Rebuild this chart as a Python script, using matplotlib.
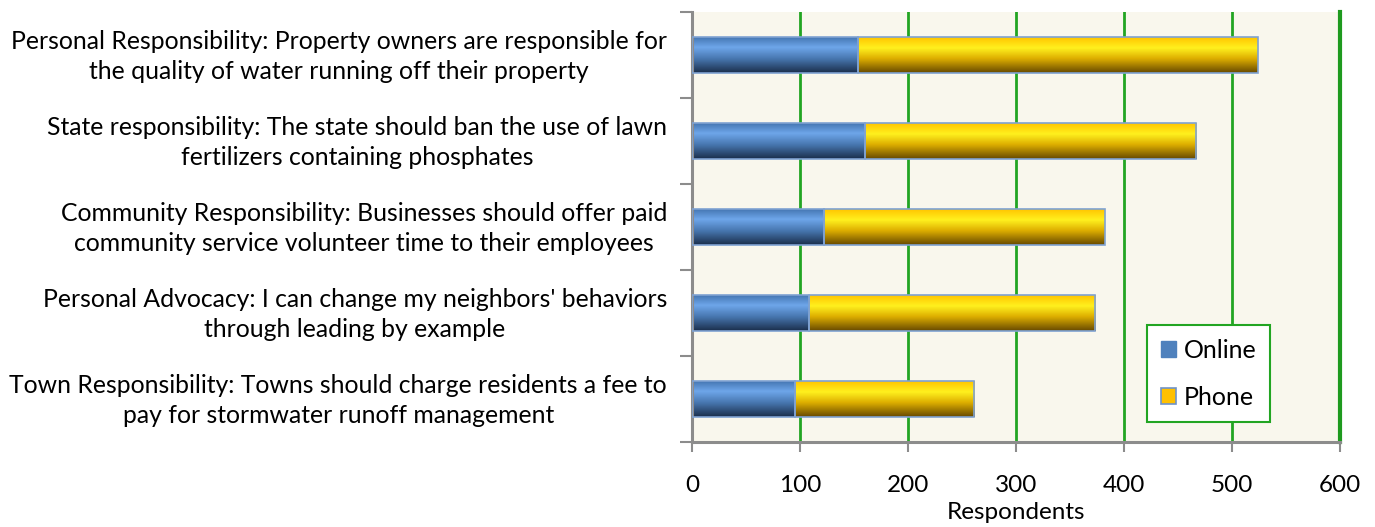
import numpy as np
import matplotlib
matplotlib.use('Agg')
import matplotlib.pyplot as plt
from matplotlib.colors import LinearSegmentedColormap
from matplotlib.patches import Patch

# statements, listed top to bottom
statements = [
    "Personal Responsibility: Property owners are responsible for\nthe quality of water running off their property",
    "State responsibility: The state should ban the use of lawn\nfertilizers containing phosphates",
    "Community Responsibility: Businesses should offer paid\ncommunity service volunteer time to their employees",
    "Personal Advocacy: I can change my neighbors' behaviors\nthrough leading by example",
    "Town Responsibility: Towns should charge residents a fee to\npay for stormwater runoff management",
]
online = [154, 160, 122, 108, 95]
phone = [370, 307, 260, 265, 166]
series_names = ['Online', 'Phone']
x_ticks = [0, 100, 200, 300, 400, 500, 600]

plt.rcParams['font.family'] = ['Lato', 'DejaVu Sans']

blue_map = LinearSegmentedColormap.from_list(
    'blue_bar', [(0.0, '#4677B3'), (0.28, '#6EA6EA'), (0.6, '#4877B0'), (1.0, '#1B2F4C')])
gold_map = LinearSegmentedColormap.from_list(
    'gold_bar', [(0.0, '#FFC600'), (0.3, '#FFF01E'), (0.6, '#DDAE00'), (1.0, '#684A00')])
shade = np.linspace(0, 1, 64).reshape(-1, 1)


def fill_gradient(ax, bars, cmap):
    for p in bars:
        x0, y0, w, h = p.get_x(), p.get_y(), p.get_width(), p.get_height()
        img = ax.imshow(shade, cmap=cmap, extent=[x0, x0 + w, y0, y0 + h],
                        origin='upper', aspect='auto', zorder=2, interpolation='bilinear')
        img.set_clip_path(p)


fig = plt.figure(figsize=(13.75, 5.27), dpi=100)
ax = fig.add_axes([0.5033, 0.1613, 0.4713, 0.8159])
ax.set_facecolor('#F9F7ED')

y = np.arange(len(statements))[::-1]
bar_h = 0.41
b1 = ax.barh(y, online, height=bar_h, color='none', edgecolor='#7FA2D2', linewidth=1.2, zorder=3)
b2 = ax.barh(y, phone, left=online, height=bar_h, color='none', edgecolor='#7FA2D2',
             linewidth=1.2, zorder=3)
fill_gradient(ax, b1, blue_map)
fill_gradient(ax, b2, gold_map)

ax.set_xlim(0, 600)
ax.set_ylim(-0.5, len(statements) - 0.5)
ax.set_xticks(x_ticks)
# label ticks sit a touch above the bar centres so the two-line text looks centred
ax.set_yticks(y + 0.045)
ax.set_yticklabels(statements, fontsize=17.8, multialignment='center', linespacing=1.38)
ax.set_yticks(np.arange(-0.5, len(statements)), minor=True)
ax.tick_params(axis='y', which='major', length=0, pad=18)
ax.tick_params(axis='y', which='minor', length=9, width=1.5, color='#8C8C8C')
ax.tick_params(axis='x', length=7, width=1.5, color='#8C8C8C', labelsize=17.5, pad=17)

ax.grid(axis='x', color='#22A522', linewidth=2, zorder=1)
ax.set_axisbelow(True)
for side in ['left', 'bottom']:
    ax.spines[side].set_color('#8C8C8C')
    ax.spines[side].set_linewidth(2.2)
ax.spines['top'].set_visible(False)
ax.spines['right'].set_color('#1E9A1E')
ax.spines['right'].set_linewidth(3)

ax.set_xlabel('Respondents', fontsize=17.5, labelpad=4)

handles = [Patch(facecolor='#4F81BD', edgecolor='#4F81BD'),
           Patch(facecolor='#FFC000', edgecolor='#6F93C8', linewidth=1.2)]
leg = ax.legend(handles, series_names, loc='upper left', bbox_to_anchor=(0.702, 0.272),
                borderaxespad=0, fontsize=18, frameon=True, fancybox=False,
                handlelength=0.62, handleheight=0.62, handletextpad=0.3,
                labelspacing=0.95, borderpad=0.55)
leg.get_frame().set_edgecolor('#22A522')
leg.get_frame().set_linewidth(1.5)
leg.get_frame().set_facecolor('white')
leg.get_frame().set_alpha(1)

fig.savefig('out.png', dpi=100, facecolor='white')
